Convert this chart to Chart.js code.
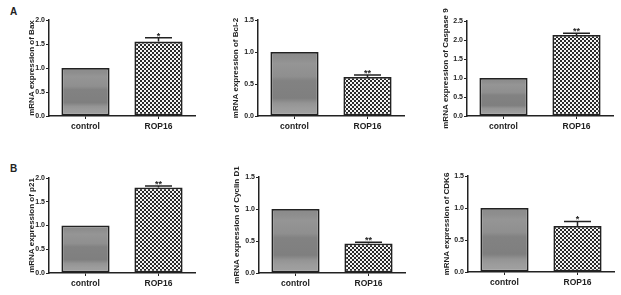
<!DOCTYPE html>
<html>
<head>
<meta charset="utf-8">
<script src="https://cdn.jsdelivr.net/npm/chart.js@4.4.0/dist/chart.umd.min.js"></script>
<style>
  body { margin: 0; background: #fff; width: 621px; height: 295px; position: relative; overflow: hidden; font-family: "Liberation Sans", Arial, sans-serif; }
  .panel { position: absolute; }
  .tag { position: absolute; font-weight: bold; font-size: 10px; color: #222; }
</style>
</head>
<body>
<div class="tag" style="left:10px;top:6px">A</div>
<div class="tag" style="left:10px;top:163px">B</div>

<script>
// data
const categories = ["control", "ROP16"];
const genes = ["Bax", "Bcl-2", "Caspase 9", "p21", "Cyclin D1", "CDK6"];
const controlValues = [1, 1, 1, 1, 1, 1];
const rop16Values = [1.55, 0.61, 2.13, 1.80, 0.46, 0.72];
const rop16Errors = [0.08, 0.03, 0.05, 0.03, 0.02, 0.07];
const stars = ["*", "**", "**", "**", "**", "*"];
const yMax = [2.0, 1.5, 2.5, 2.0, 1.5, 1.5];
const yStep = [0.5, 0.5, 0.5, 0.5, 0.5, 0.5];

// panel placement (pixels)
const panels = [
  { left: 0,   top: 0,   w: 210, h: 145, axisW: 49, padTop: 20, padRight: 15, xH: 29, titlePad: 27 },
  { left: 210, top: 0,   w: 210, h: 145, axisW: 48, padTop: 20, padRight: 16, xH: 29, titlePad: 21 },
  { left: 420, top: 0,   w: 201, h: 145, axisW: 47, padTop: 21, padRight: 8,  xH: 29, titlePad: 21 },
  { left: 0,   top: 145, w: 210, h: 150, axisW: 49, padTop: 33, padRight: 15, xH: 22, titlePad: 27 },
  { left: 210, top: 145, w: 210, h: 150, axisW: 49, padTop: 32, padRight: 15, xH: 22, titlePad: 22 },
  { left: 420, top: 145, w: 201, h: 150, axisW: 48, padTop: 31, padRight: 7,  xH: 23, titlePad: 22 },
];

const ink = "#222";

// checkerboard fill for the ROP16 bars
function checker() {
  const c = document.createElement("canvas");
  c.width = 4; c.height = 4;
  const g = c.getContext("2d");
  g.fillStyle = "#f4f4f4"; g.fillRect(0, 0, 4, 4);
  g.fillStyle = "#2a2a2a";
  g.fillRect(0, 0, 2, 2); g.fillRect(2, 2, 2, 2);
  return g.createPattern(c, "repeat");
}

// banded gray fill for the control bars
function banded(chart, value) {
  const y = chart.scales.y;
  if (!y) return "#8c8c8c";
  const top = y.getPixelForValue(value), bot = y.getPixelForValue(0);
  if (!isFinite(top) || !isFinite(bot) || top === bot) return "#8c8c8c";
  const gr = chart.ctx.createLinearGradient(0, top, 0, bot);
  const stops = [
    [0, "#8a8a8a"], [0.1, "#8e8e8e"], [0.18, "#959595"], [0.38, "#8f8f8f"],
    [0.45, "#828282"], [0.72, "#7f7f7f"], [0.8, "#949494"], [0.88, "#9c9c9c"], [1, "#a2a2a2"],
  ];
  stops.forEach(([t, c]) => gr.addColorStop(t, c));
  return gr;
}

const errorBars = {
  id: "errorBars",
  afterDatasetsDraw(chart) {
    const { ctx, scales: { y } } = chart;
    const ds = chart.data.datasets[0];
    chart.getDatasetMeta(0).data.forEach((bar, i) => {
      const err = ds.errors[i];
      if (!err) return;
      const yTop = y.getPixelForValue(ds.data[i] + err);
      const half = bar.width * 0.28;
      ctx.save();
      ctx.strokeStyle = ink;
      ctx.lineWidth = 1.5;
      ctx.beginPath();
      ctx.moveTo(bar.x, bar.y);
      ctx.lineTo(bar.x, yTop);
      ctx.moveTo(bar.x - half, yTop);
      ctx.lineTo(bar.x + half, yTop);
      ctx.stroke();
      ctx.fillStyle = ink;
      ctx.font = "bold 9px 'Liberation Sans', Arial, sans-serif";
      ctx.textAlign = "center";
      ctx.textBaseline = "alphabetic";
      ctx.fillText(ds.stars[i], bar.x, yTop + 1);
      ctx.restore();
    });
  },
};

const pattern = checker();

genes.forEach((gene, k) => {
  const p = panels[k];
  const box = document.createElement("div");
  box.className = "panel";
  box.style.left = p.left + "px";
  box.style.top = p.top + "px";
  const canvas = document.createElement("canvas");
  canvas.width = p.w; canvas.height = p.h;
  box.appendChild(canvas);
  document.body.appendChild(box);

  new Chart(canvas.getContext("2d"), {
    type: "bar",
    data: {
      labels: categories,
      datasets: [{
        data: [controlValues[k], rop16Values[k]],
        errors: [0, rop16Errors[k]],
        stars: ["", stars[k]],
        backgroundColor: (c) => c.dataIndex === 0 ? banded(c.chart, controlValues[k]) : pattern,
        borderColor: ink,
        borderWidth: 1.8,
        borderSkipped: false,
        barPercentage: 0.66,
        categoryPercentage: 1,
      }],
    },
    options: {
      responsive: false,
      animation: false,
      layout: { padding: { top: p.padTop, right: p.padRight, left: 0, bottom: 0 } },
      plugins: { legend: { display: false }, tooltip: { enabled: false } },
      scales: {
        x: {
          afterFit: (s) => { s.height = p.xH; },
          border: { color: ink, width: 1.5 },
          grid: { drawOnChartArea: false, offset: false, tickLength: 3, color: ink },
          ticks: { color: ink, padding: 3, font: { family: "'Liberation Sans', Arial", size: 8.5, weight: "bold" } },
        },
        y: {
          min: 0,
          max: yMax[k],
          afterFit: (s) => { s.width = p.axisW; },
          border: { color: ink, width: 1.5 },
          grid: { drawOnChartArea: false, tickLength: 3, color: ink },
          ticks: {
            stepSize: yStep[k],
            padding: 1,
            color: ink,
            font: { family: "'Liberation Sans', Arial", size: 7, weight: "bold" },
            callback: (v) => Number(v).toFixed(1),
          },
          title: {
            display: true,
            text: "mRNA expression of " + gene,
            color: ink,
            padding: { top: p.titlePad, bottom: 0 },
            font: { family: "'Liberation Sans', Arial", size: 8, weight: "bold" },
          },
        },
      },
    },
    plugins: [errorBars],
  });
});
</script>
</body>
</html>
